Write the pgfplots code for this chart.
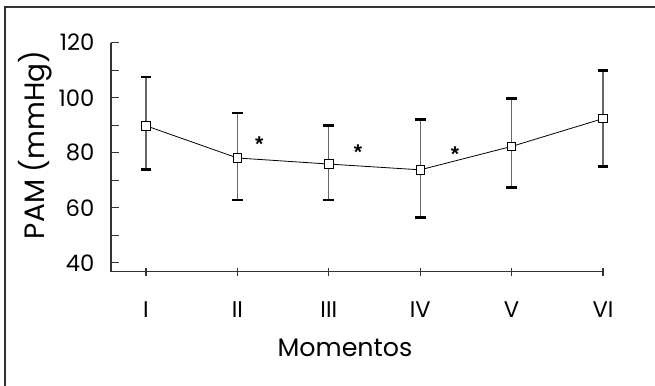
\documentclass[border=0pt]{standalone}
\usepackage{pgfplots}
\pgfplotsset{compat=1.18}
\usepackage{pgfplotstable}
\usepackage{fontspec}
\setmainfont{Poppins}
\newfontfamily\astfont{Liberation Sans}
\pgfplotstableread{
x y ep em
1 89.8 17.7 16.0
2 78.1 16.3 15.2
3 75.9 14.0 13.0
4 73.8 18.4 17.4
5 82.3 17.4 15.0
6 92.4 17.4 17.5
}\pam
\begin{document}
\begin{tikzpicture}
\useasboundingbox (0,0) rectangle (491.25pt,288.75pt);
\fill[white] (0,0) rectangle (491.25pt,288.75pt);
\draw[line width=1.5pt, black!80] (3.4pt,-2pt) -- (3.4pt,283.6pt) -- (495pt,283.6pt);
\begin{axis}[
  at={(83.25pt,84.98pt)}, anchor=south west,
  scale only axis, width=369pt, height=171.8pt,
  xmin=0.617, xmax=6, ymin=36.8, ymax=120,
  axis x line*=bottom, axis y line*=left,
  axis line style={black!80, line width=0.9pt},
  xtick={1,2,3,4,5,6},
  xticklabels={I,II,III,IV,V,VI},
  xtick align=center,
  ytick={40,60,80,100,120},
  minor ytick={50,70,90,110},
  ytick align=inside,
  major tick length=6pt, minor tick length=6pt,
  tick style={black!80, line width=0.8pt},
  every tick label/.append style={font=\fontsize{17}{17}\selectfont},
  /pgf/number format/assume math mode=true,
  xticklabel style={yshift=-16pt},
  yticklabel style={xshift=-9pt},
  clip=false,
]
\addplot[black, line width=0.6pt, mark=square*, mark size=3.2pt,
  mark options={fill=white, draw=black, line width=0.6pt},
  error bars/.cd, y dir=both, y explicit,
  error bar style={black!60, line width=1pt},
  error mark options={black, line width=2pt, mark size=4pt, rotate=90}]
  table[x=x, y=y, y error plus=ep, y error minus=em]{\pam};
\node[font=\astfont\bfseries\fontsize{16}{16}\selectfont] at (axis cs:2.24,83.3) {*};
\node[font=\astfont\bfseries\fontsize{16}{16}\selectfont] at (axis cs:3.32,80.3) {*};
\node[font=\astfont\bfseries\fontsize{16}{16}\selectfont] at (axis cs:4.38,79.5) {*};
\end{axis}
\node[font=\fontsize{19}{19}\selectfont] at (258.75pt,27.75pt) {Momentos};
\node[font=\fontsize{21}{21}\selectfont, rotate=90] at (26.25pt,180pt) {PAM (mmHg)};
\end{tikzpicture}
\end{document}
